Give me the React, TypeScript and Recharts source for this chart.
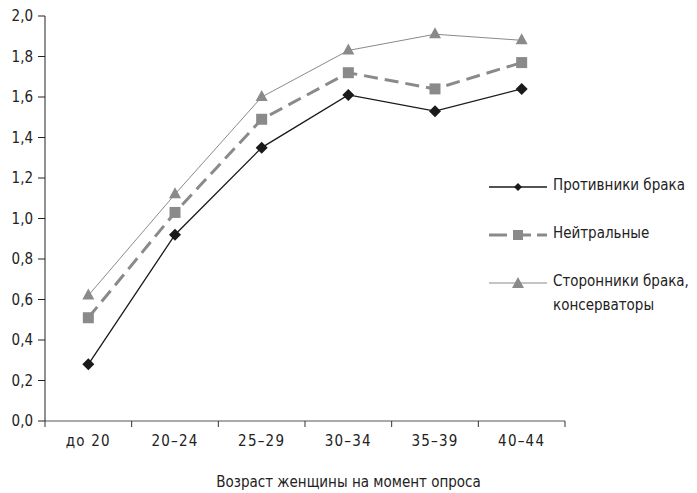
import { LineChart, Line, XAxis, YAxis } from "recharts";

const ageGroups = ["до 20", "20–24", "25–29", "30–34", "35–39", "40–44"];
const opponents = [0.28, 0.92, 1.35, 1.61, 1.53, 1.64];
const neutral = [0.51, 1.03, 1.49, 1.72, 1.64, 1.77];
const supporters = [0.62, 1.12, 1.6, 1.83, 1.91, 1.88];
const yTicks = [0, 0.2, 0.4, 0.6, 0.8, 1.0, 1.2, 1.4, 1.6, 1.8, 2.0];

const seriesNames = {
  opponents: "Противники брака",
  neutral: "Нейтральные",
  supporters: ["Сторонники брака,", "консерваторы"],
};

const data = ageGroups.map((age, i) => ({
  age,
  opponents: opponents[i],
  neutral: neutral[i],
  supporters: supporters[i],
}));

const FONT = "'Liberation Sans Narrow', 'DejaVu Sans Condensed', 'Roboto', sans-serif";
const INK = "#1a1a1a";
const GRAY = "#8a8a8a";
const BAND = 520 / 6;

function Diamond({ cx, cy }: any) {
  if (cx == null || cy == null) return null;
  const r = 6;
  return <polygon points={`${cx},${cy - r} ${cx + r},${cy} ${cx},${cy + r} ${cx - r},${cy}`} fill={INK} />;
}

function Square({ cx, cy }: any) {
  if (cx == null || cy == null) return null;
  return <rect x={cx - 5.5} y={cy - 5.5} width={11} height={11} fill={GRAY} />;
}

function Triangle({ cx, cy }: any) {
  if (cx == null || cy == null) return null;
  return <polygon points={`${cx},${cy - 7} ${cx + 6},${cy + 4} ${cx - 6},${cy + 4}`} fill={GRAY} />;
}

function AgeTick({ x, y, payload, index }: any) {
  const left = x - BAND / 2;
  return (
    <g>
      <line x1={left} y1={y - 8} x2={left} y2={y - 2} stroke="#333" strokeWidth={1} />
      {index === ageGroups.length - 1 && (
        <line x1={x + BAND / 2} y1={y - 8} x2={x + BAND / 2} y2={y - 2} stroke="#333" strokeWidth={1} />
      )}
      <text x={x} y={y + 17} textAnchor="middle" fontSize={15} fill="#222" fontFamily={FONT} letterSpacing={1.2}>
        {payload.value}
      </text>
    </g>
  );
}

function LegendBox() {
  const row = (icon: any, lines: string[], top: number) => (
    <div style={{ position: "absolute", left: 0, top, display: "flex", alignItems: "flex-start" }}>
      <svg width={62} height={14} style={{ marginTop: 2 }}>{icon}</svg>
      <div style={{ marginLeft: 2, lineHeight: "24px", marginTop: -5 }}>
        {lines.map((l) => (
          <div key={l}>{l}</div>
        ))}
      </div>
    </div>
  );
  return (
    <div
      style={{
        position: "absolute",
        left: 489,
        top: 178,
        width: 210,
        height: 140,
        fontFamily: FONT,
        fontSize: 15,
        color: "#222",
      }}
    >
      {row(
        <g>
          <line x1={0} y1={7} x2={58} y2={7} stroke={INK} strokeWidth={1.3} />
          <polygon points="29,3 33,7 29,11 25,7" fill={INK} />
        </g>,
        [seriesNames.opponents],
        0
      )}
      {row(
        <g>
          <line x1={0} y1={7} x2={58} y2={7} stroke={GRAY} strokeWidth={3} strokeDasharray="18 6" />
          <rect x={24} y={2} width={10} height={10} fill={GRAY} />
        </g>,
        [seriesNames.neutral],
        48
      )}
      {row(
        <g>
          <line x1={0} y1={7} x2={58} y2={7} stroke={GRAY} strokeWidth={1} />
          <polygon points="29,1 35,12 23,12" fill={GRAY} />
        </g>,
        seriesNames.supporters,
        96
      )}
    </div>
  );
}

export default function App() {
  return (
    <div style={{ position: "absolute", left: 0, top: 0, width: 697, height: 493, background: "#fff" }}>
      <LineChart width={697} height={493} data={data} margin={{ top: 16, right: 132, bottom: 42, left: 0 }}>
        <XAxis
          dataKey="age"
          scale="band"
          stroke="#555"
          tickLine={false}
          tick={<AgeTick />}
          height={30}
          interval={0}
        />
        <YAxis
          domain={[0, 2]}
          ticks={yTicks}
          width={45}
          stroke="#222"
          tickSize={7}
          tickFormatter={(v: number) => v.toFixed(1).replace(".", ",")}
          tick={{ fill: "#222", fontSize: 15, fontFamily: FONT, dx: -3 }}
        />
        <Line
          dataKey="supporters"
          stroke={GRAY}
          strokeWidth={1}
          dot={<Triangle />}
          activeDot={false}
          isAnimationActive={false}
        />
        <Line
          dataKey="neutral"
          stroke={GRAY}
          strokeWidth={3}
          strokeDasharray="14 7"
          dot={<Square />}
          activeDot={false}
          isAnimationActive={false}
        />
        <Line
          dataKey="opponents"
          stroke={INK}
          strokeWidth={1.3}
          dot={<Diamond />}
          activeDot={false}
          isAnimationActive={false}
        />
      </LineChart>
      <LegendBox />
      <div
        style={{
          position: "absolute",
          left: 0,
          width: 697,
          top: 473,
          textAlign: "center",
          fontFamily: FONT,
          fontSize: 15,
          color: "#222",
        }}
      >
        Возраст женщины на момент опроса
      </div>
    </div>
  );
}
